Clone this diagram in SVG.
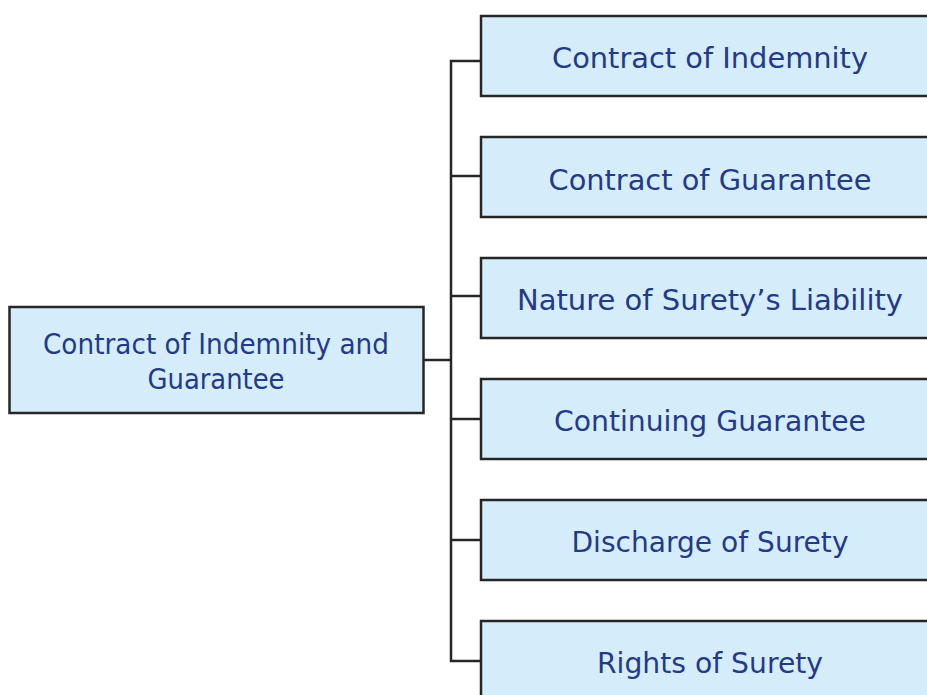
<svg xmlns="http://www.w3.org/2000/svg" width="927" height="695" viewBox="0 0 927 695">
  <style>
    .box { fill: #d5edfa; stroke: #262626; stroke-width: 2.5; }
    .lbl { font-family: "DejaVu Sans", "Liberation Sans", sans-serif; font-size: 29px; fill: #233a89; text-anchor: middle; }
    .wire { fill: none; stroke: #262626; stroke-width: 2.5; }
  </style>
  <rect width="927" height="695" fill="#ffffff"/>

  <g id="connectors">
    <path class="wire" d="M424 360 H451"/>
    <path class="wire" d="M481 61 H451 V661 H481"/>
    <path class="wire" d="M451 176 H481"/>
    <path class="wire" d="M451 296 H481"/>
    <path class="wire" d="M451 419 H481"/>
    <path class="wire" d="M451 540 H481"/>
  </g>

  <g id="root">
    <rect class="box" x="9.5" y="307" width="414" height="106"/>
    <text class="lbl" x="216" y="354" textLength="346" lengthAdjust="spacingAndGlyphs">Contract of Indemnity and</text>
    <text class="lbl" x="216" y="389" textLength="137" lengthAdjust="spacingAndGlyphs">Guarantee</text>
  </g>

  <g id="indemnity">
    <rect class="box" x="481" y="16" width="450" height="80"/>
    <text class="lbl" x="710" y="68" textLength="316" lengthAdjust="spacingAndGlyphs">Contract of Indemnity</text>
  </g>

  <g id="guarantee">
    <rect class="box" x="481" y="137" width="450" height="80"/>
    <text class="lbl" x="710" y="190" textLength="323" lengthAdjust="spacingAndGlyphs">Contract of Guarantee</text>
  </g>

  <g id="surety-liability">
    <rect class="box" x="481" y="258" width="450" height="80"/>
    <text class="lbl" x="710" y="310" textLength="386" lengthAdjust="spacingAndGlyphs">Nature of Surety’s Liability</text>
  </g>

  <g id="continuing">
    <rect class="box" x="481" y="379" width="450" height="80"/>
    <text class="lbl" x="710" y="431" textLength="312" lengthAdjust="spacingAndGlyphs">Continuing Guarantee</text>
  </g>

  <g id="discharge">
    <rect class="box" x="481" y="500" width="450" height="80"/>
    <text class="lbl" x="710" y="552" textLength="277" lengthAdjust="spacingAndGlyphs">Discharge of Surety</text>
  </g>

  <g id="rights">
    <rect class="box" x="481" y="621" width="450" height="80"/>
    <text class="lbl" x="710" y="673" textLength="226" lengthAdjust="spacingAndGlyphs">Rights of Surety</text>
  </g>
</svg>
